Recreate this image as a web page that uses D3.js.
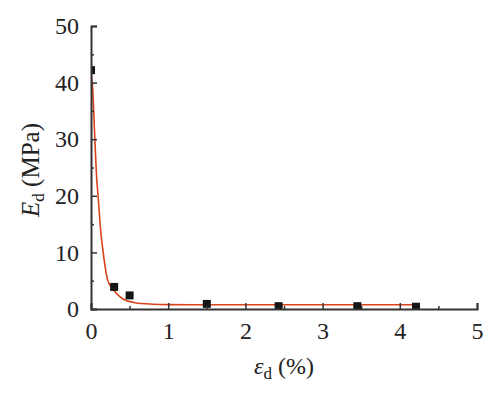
<!DOCTYPE html>
<html>
<head>
<meta charset="utf-8">
<style>
body { margin: 0; background: #fff; }
svg text { font-family: "Liberation Serif", serif; fill: #222; }
</style>
</head>
<body>
<svg id="chart" width="500" height="401"></svg>
<script src="https://cdn.jsdelivr.net/npm/d3@7/dist/d3.min.js"></script>
<script>
// measured points
var strainPts = [0, 0.3, 0.5, 1.5, 2.43, 3.45, 4.21];
var modulusPts = [42.2, 3.9, 2.4, 0.9, 0.5, 0.5, 0.4];

// fitted curve
var strainFit = [0, 0.017, 0.05, 0.075, 0.095, 0.117, 0.16, 0.216, 0.29, 0.4, 0.57, 0.8, 1.0, 1.5, 2.5, 3.5, 4.2];
var modulusFit = [41.5, 39.9, 30, 22.8, 19.5, 15.1, 9.8, 5.1, 3.4, 1.9, 1.1, 0.85, 0.78, 0.75, 0.75, 0.75, 0.75];

var xTicks = [0, 1, 2, 3, 4, 5];
var yTicks = [0, 10, 20, 30, 40, 50];

var svg = d3.select("#chart");
var mLeft = 91, mRight = 477, mTop = 26, mBottom = 309;

var x = d3.scaleLinear().domain([0, 5]).range([mLeft, mRight]);
var y = d3.scaleLinear().domain([0, 50]).range([mBottom, mTop]);

// clip so markers are cut at the axes
svg.append("clipPath").attr("id", "plotclip")
  .append("rect")
  .attr("x", mLeft).attr("y", mTop - 5)
  .attr("width", mRight - mLeft + 5).attr("height", mBottom - mTop + 5);

var plot = svg.append("g").attr("clip-path", "url(#plotclip)");

// curve
var fit = strainFit.map(function(d, i) { return [d, modulusFit[i]]; });
var line = d3.line()
  .x(function(d) { return x(d[0]); })
  .y(function(d) { return y(d[1]); })
  .curve(d3.curveMonotoneX);

plot.append("path")
  .datum(fit)
  .attr("d", line)
  .attr("fill", "none")
  .attr("stroke", "#d9431c")
  .attr("stroke-width", 1.6);

// markers
var sz = 8;
plot.selectAll(".pt")
  .data(strainPts)
  .enter().append("rect")
  .attr("class", "pt")
  .attr("x", function(d) { return x(d) - sz / 2; })
  .attr("y", function(d, i) { return y(modulusPts[i]) - sz / 2; })
  .attr("width", sz)
  .attr("height", sz)
  .attr("fill", "#151515");

// axes (ticks pointing inwards)
var axisCol = "#333";
var xAxis = svg.append("g").attr("transform", "translate(0," + mBottom + ")")
  .call(d3.axisBottom(x).tickValues(xTicks).tickSize(-6).tickPadding(13).tickFormat(d3.format("d")));
var xMinor = svg.append("g").attr("transform", "translate(0," + mBottom + ")")
  .call(d3.axisBottom(x).tickValues([0.5, 1.5, 2.5, 3.5, 4.5]).tickSize(-3).tickFormat(""));

var yAxis = svg.append("g").attr("transform", "translate(" + mLeft + ",0)")
  .call(d3.axisLeft(y).tickValues(yTicks).tickSize(-6).tickPadding(12).tickFormat(d3.format("d")));
var yMinor = svg.append("g").attr("transform", "translate(" + mLeft + ",0)")
  .call(d3.axisLeft(y).tickValues([5, 15, 25, 35, 45]).tickSize(-3).tickFormat(""));

[xAxis, xMinor, yAxis, yMinor].forEach(function(g) {
  g.attr("font-size", 24);
  g.select(".domain").attr("stroke", axisCol).attr("stroke-width", 2);
  g.selectAll(".tick line").attr("stroke", axisCol).attr("stroke-width", 1.5);
  g.selectAll(".tick text").attr("fill", "#222");
});
xMinor.select(".domain").remove();
yMinor.select(".domain").remove();

// axis titles
var yt = svg.append("text")
  .attr("transform", "translate(39,170) rotate(-90)")
  .attr("text-anchor", "middle")
  .attr("font-size", 25);
yt.append("tspan").attr("font-style", "italic").text("E");
yt.append("tspan").attr("font-size", 17).attr("dy", 5).text("d");
yt.append("tspan").attr("dy", -5).text(" (MPa)");

var xt = svg.append("text")
  .attr("x", x(2.5))
  .attr("y", 374)
  .attr("text-anchor", "middle")
  .attr("font-size", 24);
xt.append("tspan").attr("font-style", "italic").text("ε");
xt.append("tspan").attr("font-size", 17).attr("dy", 5).text("d");
xt.append("tspan").attr("dy", -5).text(" (%)");
</script>
</body>
</html>
